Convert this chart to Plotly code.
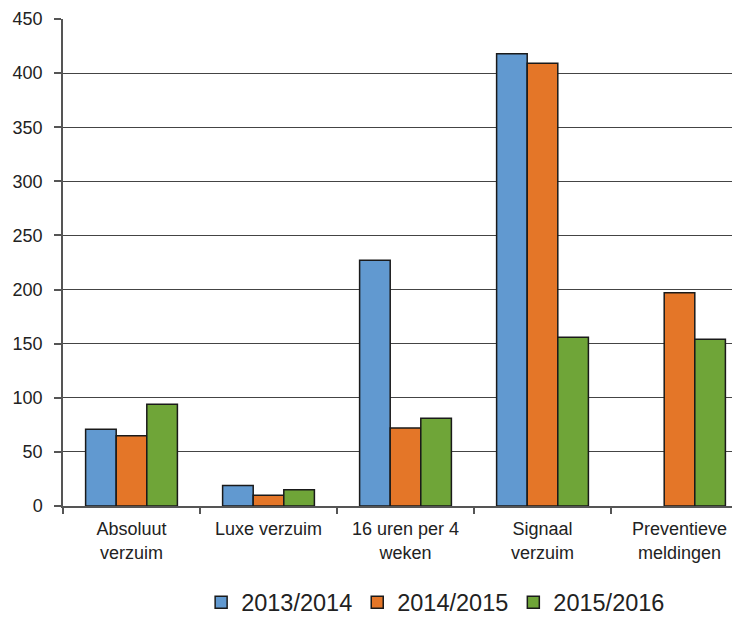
import plotly.graph_objects as go

categories = ["Absoluut<br>verzuim", "Luxe verzuim", "16 uren per 4<br>weken", "Signaal<br>verzuim", "Preventieve<br>meldingen"]
series_names = ["2013/2014", "2014/2015", "2015/2016"]
v_2013 = [71, 19, 227, 418, None]
v_2014 = [65, 10, 72, 409, 197]
v_2015 = [94, 15, 81, 156, 154]
colors = ["#6199D0", "#E47628", "#6FA538"]
y_ticks = [0, 50, 100, 150, 200, 250, 300, 350, 400, 450]

fig = go.Figure()
for name, vals, col in zip(series_names, [v_2013, v_2014, v_2015], colors):
    fig.add_trace(go.Bar(x=categories, y=vals, name=name,
                         marker=dict(color=col, line=dict(color="#1a1a1a", width=1.5))))

font = "Liberation Sans, Arial, sans-serif"
fig.update_layout(
    width=740, height=617,
    margin=dict(l=55, r=0, t=11, b=111),
    paper_bgcolor="white", plot_bgcolor="white",
    barmode="group", bargap=0.33, bargroupgap=0,
    font=dict(family=font, size=18, color="#222"),
    legend=dict(orientation="h", x=0.544, xanchor="center", y=-0.198, yanchor="middle",
                font=dict(size=23.5, color="#222"), itemwidth=30, traceorder="normal"),
    showlegend=True,
)
fig.update_xaxes(showline=True, linecolor="#555", linewidth=1.5, ticks="outside",
                 tickson="boundaries", ticklen=6, tickcolor="#555", tickwidth=1.5,
                 showgrid=False, automargin=False, ticklabelstandoff=6,
                 tickfont=dict(size=18, color="#222"))
fig.update_yaxes(range=[0, 450], tickvals=y_ticks, showline=True, linecolor="#555", linewidth=1.5,
                 ticks="outside", ticklen=7, tickcolor="#555", tickwidth=1.5,
                 showgrid=True, gridcolor="#444", gridwidth=1, zeroline=False,
                 automargin=False, ticklabelstandoff=8, tickfont=dict(size=18, color="#222"))

fig.write_html("out.html")
